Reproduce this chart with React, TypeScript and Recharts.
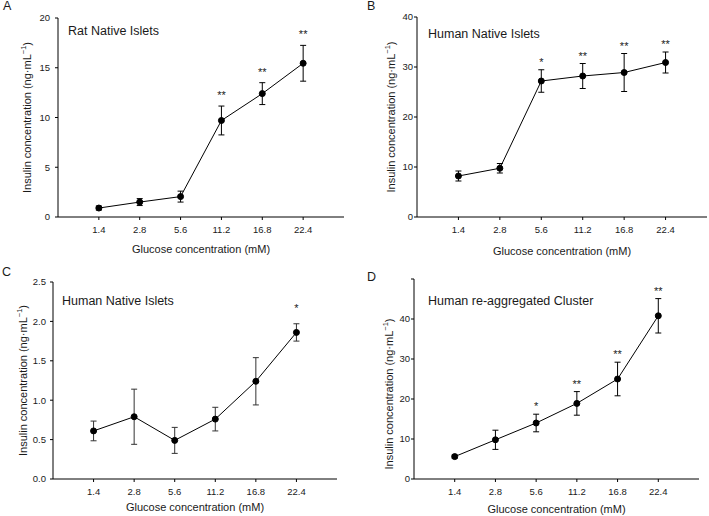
import { LineChart, Line, XAxis, YAxis, ErrorBar, LabelList } from "recharts";

const glucose = ["1.4", "2.8", "5.6", "11.2", "16.8", "22.4"];

// A: rat native islets
const ratMean = [0.9, 1.5, 2.05, 9.7, 12.4, 15.45];
const ratErr = [0.2, 0.35, 0.55, 1.45, 1.1, 1.8];
const ratSig = ["", "", "", "**", "**", "**"];

// B: human native islets
const humanMean = [8.2, 9.75, 27.2, 28.2, 28.9, 30.9];
const humanErr = [1.0, 0.95, 2.25, 2.5, 3.8, 2.1];
const humanSig = ["", "", "*", "**", "**", "**"];

// C: human native islets (second set)
const human2Mean = [0.61, 0.79, 0.49, 0.76, 1.24, 1.86];
const human2Err = [0.125, 0.35, 0.165, 0.15, 0.3, 0.11];
const human2Sig = ["", "", "", "", "", "*"];

// D: human re-aggregated cluster
const clusterMean = [5.6, 9.8, 14.0, 18.9, 25.0, 40.8];
const clusterErr = [0.4, 2.4, 2.2, 2.95, 4.2, 4.3];
const clusterSig = ["", "", "*", "**", "**", "**"];

const FONT = "'Liberation Sans', Arial, sans-serif";
const INK = "#1a1a1a";

const YTitle = (props: any) => {
  const vb = props.viewBox || {};
  const cx = vb.x + vb.width - props.gap;
  const cy = vb.y + vb.height / 2 + (props.shift || 0);
  return (
    <text
      x={cx}
      y={cy}
      transform={`rotate(-90 ${cx} ${cy})`}
      textAnchor="middle"
      dominantBaseline="central"
      fontSize={11}
      fill={INK}
      fontFamily={FONT}
    >
      Insulin concentration (ng·mL
      <tspan dy={-4} fontSize={7.5}>
        −1
      </tspan>
      <tspan dy={4}>)</tspan>
    </text>
  );
};

const renderStar = (p: any, gap: number) => {
  const x = p.x ?? p.viewBox?.x;
  const y = p.y ?? p.viewBox?.y;
  if (!p.value) return null;
  return (
    <text x={x} y={y - gap} textAnchor="middle" fontSize={11} fill={INK} fontFamily={FONT}>
      {p.value}
    </text>
  );
};

type PanelProps = {
  mean: number[];
  err: number[];
  sig: string[];
  left: number;
  top: number;
  width: number;
  mTop: number;
  mRight: number;
  yWidth: number;
  xHeight: number;
  yDomain: [number, number];
  yTicks: number[];
  yFmt?: (v: number) => string;
  yTickMargin: number;
  titleGap: number;
  titleShift?: number;
  xTitleOffset: number;
  starGap: number;
  errColor?: string;
};

const Panel = (p: PanelProps) => {
  const data = glucose.map((g, i) => ({
    pos: i + 1,
    label: g,
    mean: p.mean[i],
    err: p.err[i],
    top: p.mean[i] + p.err[i],
    sig: p.sig[i],
  }));
  return (
    <div style={{ position: "absolute", left: p.left, top: p.top }}>
      <LineChart
        width={p.width}
        height={258}
        data={data}
        margin={{ top: p.mTop, right: p.mRight, bottom: 0, left: 0 }}
      >
        <XAxis
          type="number"
          dataKey="pos"
          domain={[0, 7]}
          ticks={[1, 2, 3, 4, 5, 6]}
          interval={0}
          tickFormatter={(v: number) => glucose[v - 1]}
          height={p.xHeight}
          stroke="#000"
          tickSize={3}
          tickMargin={6}
          tick={{ fontSize: 9.5, fill: INK, fontFamily: FONT }}
          label={{
            value: "Glucose concentration (mM)",
            position: "insideBottom",
            offset: p.xTitleOffset,
            fontSize: 11,
            fill: INK,
            fontFamily: FONT,
          }}
        />
        <YAxis
          type="number"
          domain={p.yDomain}
          ticks={p.yTicks}
          interval={0}
          tickFormatter={p.yFmt}
          width={p.yWidth}
          stroke="#000"
          tickSize={3}
          tickMargin={p.yTickMargin}
          tick={{ fontSize: 9.5, fill: INK, fontFamily: FONT }}
          label={<YTitle gap={p.titleGap} shift={p.titleShift} />}
        />
        <Line
          dataKey="top"
          stroke="none"
          dot={false}
          activeDot={false}
          legendType="none"
          isAnimationActive={false}
        >
          <LabelList dataKey="sig" content={(lp: any) => renderStar(lp, p.starGap)} />
        </Line>
        <Line
          dataKey="mean"
          stroke="#000"
          strokeWidth={1}
          dot={{ r: 3, fill: "#000", stroke: "#000", strokeWidth: 1 }}
          activeDot={false}
          isAnimationActive={false}
        >
          <ErrorBar
            dataKey="err"
            direction="y"
            width={3}
            stroke={p.errColor || "#000"}
            strokeWidth={1}
            isAnimationActive={false}
          />
        </Line>
      </LineChart>
    </div>
  );
};

const texts = [
  { x: 3, y: 10, s: "A", size: 12.5 },
  { x: 367, y: 10, s: "B", size: 12.5 },
  { x: 2, y: 276, s: "C", size: 12.5 },
  { x: 367, y: 281, s: "D", size: 12.5 },
  { x: 68, y: 34.5, s: "Rat Native Islets", size: 12.5 },
  { x: 428, y: 38, s: "Human Native Islets", size: 12.5 },
  { x: 62, y: 305, s: "Human Native Islets", size: 12.5 },
  { x: 428, y: 304.5, s: "Human re-aggregated Cluster", size: 12.5 },
];

export default function App() {
  return (
    <div
      style={{
        position: "absolute",
        left: 0,
        top: 0,
        width: 709,
        height: 516,
        background: "#fff",
        fontFamily: FONT,
        overflow: "hidden",
      }}
    >
      <Panel
        mean={ratMean}
        err={ratErr}
        sig={ratSig}
        left={0}
        top={0}
        width={354}
        mTop={18}
        mRight={10}
        yWidth={58}
        xHeight={41}
        yDomain={[0, 20]}
        yTicks={[0, 5, 10, 15, 20]}
        yTickMargin={5}
        titleGap={31}
        xTitleOffset={5}
        starGap={7}
      />
      <Panel
        mean={humanMean}
        err={humanErr}
        sig={humanSig}
        left={354}
        top={0}
        width={355}
        mTop={17}
        mRight={2}
        yWidth={63}
        xHeight={41}
        yDomain={[0, 40]}
        yTicks={[0, 10, 20, 30, 40]}
        yTickMargin={1}
        titleGap={26}
        xTitleOffset={3}
        starGap={4}
      />
      <Panel
        mean={human2Mean}
        err={human2Err}
        sig={human2Sig}
        left={0}
        top={258}
        width={354}
        mTop={24}
        mRight={17}
        yWidth={53}
        xHeight={37}
        yDomain={[0, 2.5]}
        yTicks={[0, 0.5, 1, 1.5, 2, 2.5]}
        yFmt={(v: number) => v.toFixed(1)}
        yTickMargin={4}
        titleGap={30}
        xTitleOffset={5}
        starGap={12}
        errColor="#333"
      />
      <Panel
        mean={clusterMean}
        err={clusterErr}
        sig={clusterSig}
        left={354}
        top={258}
        width={355}
        mTop={21}
        mRight={10}
        yWidth={60}
        xHeight={37}
        yDomain={[0, 50]}
        yTicks={[0, 10, 20, 30, 40, 50]}
        yFmt={(v: number) => (v === 50 ? "" : String(v))}
        yTickMargin={1}
        titleGap={25}
        titleShift={15}
        xTitleOffset={3}
        starGap={4}
      />
      <svg
        width={709}
        height={516}
        style={{ position: "absolute", left: 0, top: 0, pointerEvents: "none" }}
      >
        {texts.map((t, i) => (
          <text key={i} x={t.x} y={t.y} fontSize={t.size} fill={INK} fontFamily={FONT}>
            {t.s}
          </text>
        ))}
      </svg>
    </div>
  );
}
